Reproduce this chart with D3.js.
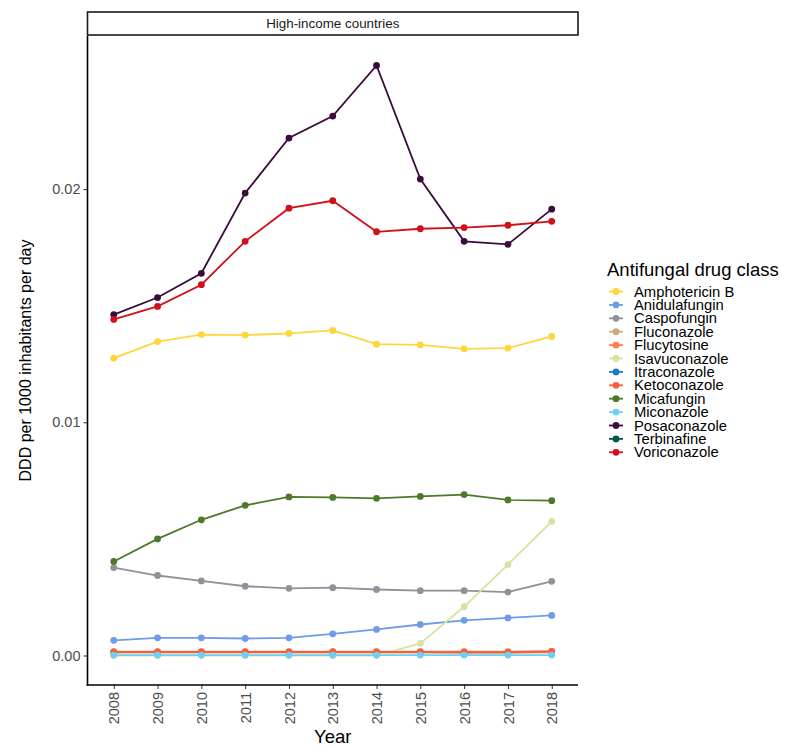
<!DOCTYPE html>
<html>
<head>
<meta charset="utf-8">
<script src="https://cdn.jsdelivr.net/npm/d3@7"></script>
<style>
  body { margin: 0; background: #fff; }
  svg { font-family: "Liberation Sans", Arial, sans-serif; }
</style>
</head>
<body>
<svg id="chart" width="787" height="747"></svg>
<script>
// Antifungal use in high-income countries, DDD per 1000 inhabitants per day
const years = [2008, 2009, 2010, 2011, 2012, 2013, 2014, 2015, 2016, 2017, 2018];
const yTicks = [0, 0.01, 0.02];
const drugClasses = ["Amphotericin B", "Anidulafungin", "Caspofungin", "Fluconazole", "Flucytosine",
  "Isavuconazole", "Itraconazole", "Ketoconazole", "Micafungin", "Miconazole", "Posaconazole",
  "Terbinafine", "Voriconazole"];
const classColors = ["#FDD63A", "#6F9BE8", "#8E9399", "#CDAA7D", "#FF7F4F", "#D6E4A2", "#1C7BC4",
  "#F2603E", "#4B7A2B", "#6ECFF6", "#3B0B3E", "#00594C", "#D0111B"];

const amphotericinB = [0.01275, 0.01346, 0.01376, 0.01374, 0.01381, 0.01394, 0.01335, 0.01332, 0.01315, 0.01318, 0.01368];
const anidulafungin = [0.00065, 0.00076, 0.00076, 0.00073, 0.00076, 0.00093, 0.00112, 0.00133, 0.00151, 0.00161, 0.00172];
const caspofungin = [0.00377, 0.00343, 0.00320, 0.00297, 0.00288, 0.00291, 0.00283, 0.00278, 0.00278, 0.00272, 0.00318];
const fluconazole = [0.00012, 0.00012, 0.00012, 0.00012, 0.00012, 0.00012, 0.00012, 0.00012, 0.00011, 0.00011, 0.00013];
const flucytosine = [0.00017, 0.00017, 0.00017, 0.00017, 0.00017, 0.00017, 0.00017, 0.00017, 0.00016, 0.00016, 0.00019];
const isavuconazole = [0, 0, 0, 0, 0, 0, 0, 0.00052, 0.00209, 0.00390, 0.00575];
// no reported use in this income group
const itraconazole = [null, null, null, null, null, null, null, null, null, null, null];
const ketoconazole = [0.00015, 0.00015, 0.00015, 0.00015, 0.00015, 0.00015, 0.00015, 0.00015, 0.00014, 0.00014, 0.00017];
const micafungin = [0.00403, 0.00500, 0.00582, 0.00644, 0.00680, 0.00678, 0.00674, 0.00682, 0.00690, 0.00667, 0.00664];
const miconazole = [0.00002, 0.00002, 0.00002, 0.00002, 0.00002, 0.00002, 0.00002, 0.00002, 0.00002, 0.00002, 0.00002];
const posaconazole = [0.01462, 0.01535, 0.01639, 0.01983, 0.02219, 0.02313, 0.02530, 0.02043, 0.01776, 0.01763, 0.01914];
const terbinafine = [null, null, null, null, null, null, null, null, null, null, null];
const voriconazole = [0.01441, 0.01497, 0.01590, 0.01776, 0.01918, 0.01950, 0.01817, 0.01830, 0.01835, 0.01845, 0.01862];

const seriesValues = [amphotericinB, anidulafungin, caspofungin, fluconazole, flucytosine, isavuconazole,
  itraconazole, ketoconazole, micafungin, miconazole, posaconazole, terbinafine, voriconazole];

const series = drugClasses.map((name, i) => ({
  name, color: classColors[i],
  points: years.map((yr, j) => ({ year: yr, value: seriesValues[i][j] })).filter(d => d.value !== null)
}));

const svg = d3.select("#chart");
const panel = { left: 87.5, right: 578, top: 36, bottom: 685 };

// ggplot-style 5% expansion of the data range
const allValues = seriesValues.flat().filter(v => v !== null);
const maxV = d3.max(allValues);
const minV = d3.min(allValues);
const pad = (maxV - minV) * 0.05;
const y = d3.scaleLinear().domain([minV - pad, maxV + pad]).range([panel.bottom, panel.top]);
const x = d3.scalePoint().domain(years).range([panel.left, panel.right]).padding(0.6);

// facet strip
svg.append("rect").attr("x", panel.left).attr("y", 12).attr("width", panel.right - panel.left)
  .attr("height", 23).attr("fill", "#fff").attr("stroke", "#1a1a1a").attr("stroke-width", 1.6);
svg.append("text").attr("x", (panel.left + panel.right) / 2).attr("y", 28)
  .attr("text-anchor", "middle").attr("font-size", 13.4).attr("fill", "#1a1a1a")
  .text("High-income countries");

// axes
const yAxis = svg.append("g").attr("transform", `translate(${panel.left},0)`)
  .call(d3.axisLeft(y).tickValues(yTicks).tickFormat(d3.format(".2f")).tickSize(4).tickPadding(3));
const xAxis = svg.append("g").attr("transform", `translate(0,${panel.bottom})`)
  .call(d3.axisBottom(x).tickSize(4).tickPadding(3));
[yAxis, xAxis].forEach(g => {
  g.select(".domain").remove();
  g.selectAll(".tick line").attr("stroke", "#333").attr("stroke-width", 1);
  g.selectAll(".tick text").attr("fill", "#4d4d4d").attr("font-size", 14.5)
    .attr("font-family", "Liberation Sans, Arial, sans-serif");
});
xAxis.selectAll(".tick text")
  .attr("transform", "rotate(-90)")
  .attr("text-anchor", "end")
  .attr("dy", "0.35em")
  .attr("x", -7)
  .attr("y", 0);

svg.append("line").attr("x1", panel.left).attr("x2", panel.left)
  .attr("y1", panel.top).attr("y2", panel.bottom + 0.8).attr("stroke", "#000").attr("stroke-width", 1.6);
svg.append("line").attr("x1", panel.left - 0.8).attr("x2", panel.right)
  .attr("y1", panel.bottom).attr("y2", panel.bottom).attr("stroke", "#000").attr("stroke-width", 1.6);

// axis titles
svg.append("text").attr("x", (panel.left + panel.right) / 2).attr("y", 743)
  .attr("text-anchor", "middle").attr("font-size", 18.5).attr("fill", "#000").text("Year");
svg.append("text").attr("transform", `translate(31,${(panel.top + panel.bottom) / 2}) rotate(-90)`)
  .attr("text-anchor", "middle").attr("font-size", 16).attr("fill", "#000")
  .text("DDD per 1000 inhabitants per day");

// lines and points
const line = d3.line().x(d => x(d.year)).y(d => y(d.value));
const plot = svg.append("g");
series.forEach(s => {
  if (!s.points.length) return;
  plot.append("path").datum(s.points).attr("d", line)
    .attr("fill", "none").attr("stroke", s.color).attr("stroke-width", 1.8);
  plot.selectAll(null).data(s.points).enter().append("circle")
    .attr("cx", d => x(d.year)).attr("cy", d => y(d.value)).attr("r", 3.4)
    .attr("fill", s.color);
});

// legend
const legend = svg.append("g").attr("transform", "translate(607,0)");
legend.append("text").attr("x", 0).attr("y", 276).attr("font-size", 18.5).attr("fill", "#000")
  .text("Antifungal drug class");
drugClasses.forEach((name, i) => {
  const cy = 291.5 + i * 13.4;
  legend.append("line").attr("x1", 2).attr("x2", 16).attr("y1", cy).attr("y2", cy)
    .attr("stroke", classColors[i]).attr("stroke-width", 1.8);
  legend.append("circle").attr("cx", 9).attr("cy", cy).attr("r", 3.4).attr("fill", classColors[i]);
  legend.append("text").attr("x", 27).attr("y", cy).attr("dy", "0.35em")
    .attr("font-size", 14.8).attr("fill", "#000").text(name);
});
</script>
</body>
</html>
